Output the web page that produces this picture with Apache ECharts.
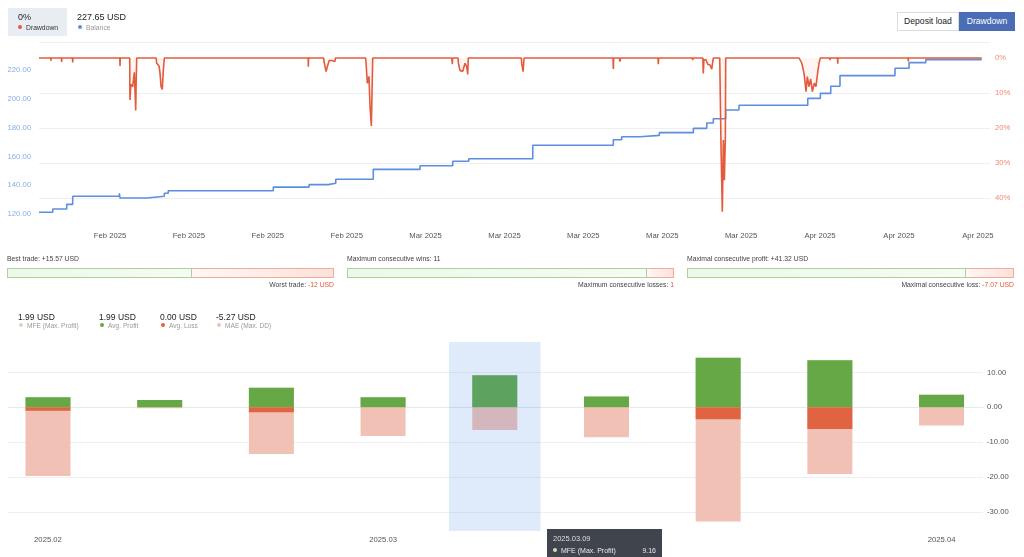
<!DOCTYPE html>
<html>
<head>
<meta charset="utf-8">
<script src="https://cdn.jsdelivr.net/npm/echarts/dist/echarts.min.js"></script>
<style>
html,body{margin:0;padding:0;background:#fff;}
body{width:1024px;height:557px;overflow:hidden;position:relative;font-family:'Liberation Sans',Arial,sans-serif;}
#chart{position:absolute;left:0;top:0;width:1024px;height:557px;}
.ov{position:absolute;white-space:nowrap;z-index:5;line-height:1;}
.dot{display:inline-block;width:4px;height:4px;border-radius:50%;margin-right:4px;vertical-align:1px;}
.btn{box-sizing:border-box;height:19px;font-size:8.6px;display:flex;align-items:center;justify-content:center;}
.pb{position:absolute;box-sizing:border-box;height:10px;z-index:5;}
</style>
</head>
<body>
<div id="chart"></div>
<div id="overlay"></div>
<script>
// ---------------- DATA ----------------
// top chart: x = days since 2025-01-26 (Sunday)
const baseDateUTC = Date.UTC(2025, 0, 26);
const monthNames = ['Jan','Feb','Mar','Apr','May','Jun','Jul','Aug','Sep','Oct','Nov','Dec'];
const weekTickDays = [7,14,21,28,35,42,49,56,63,70,77,84];
const balanceTickValues = [120,140,160,180,200,220];
const drawdownTickValues = [0,10,20,30,40];

const balancePts = [
  [0.70,121.2],[1.92,123.5],[3.16,126.7],[3.69,132.3],[7.83,134.4],[7.89,131.1],
  [10.31,132.3],[11.82,134.4],[12.17,136.2],[21.49,138.7],[24.66,140.4],[26.37,141.3],
  [27.03,144.1],[30.36,151.0],[34.51,153.5],[37.41,156.6],[38.83,158.4],[44.51,167.7],
  [51.66,171.6],[52.40,173.7],[54.03,174.6],[55.74,176.5],[58.76,179.5],[59.95,183.2],
  [60.53,186.2],[61.63,192.2],[62.81,195.5],[68.91,200.3],[70.03,203.8],[70.95,208.7],
  [71.77,216.1],[76.65,221.2],[77.90,225.1],[79.38,227.2],[84.35,227.65]
];

const drawdownPts = [
  [0.70,0],
  [1.74,0],[1.76,0.8],[1.78,0],
  [2.69,0],[2.71,1.1],[2.73,0],
  [3.67,0],[3.69,1.3],[3.71,0],
  [7.87,0],[7.89,2.3],[7.91,0],
  [8.75,0],[8.77,12.0],[8.85,7.5],[8.93,7.2],[9.01,8.2],[9.16,4.1],[9.28,15.0],[9.31,9.0],[9.37,0],
  [11.10,0],[11.14,1.5],[11.35,2.3],[11.44,4.4],[11.53,8.2],[11.64,9.0],[11.73,3.6],[11.82,0],
  [12.15,0],[12.17,0.5],[12.19,0],
  [24.58,0],[24.60,2.5],[24.62,0],
  [25.95,0],[25.99,1.0],[26.17,3.9],[26.28,2.5],[26.45,0.7],[26.67,0.7],[26.96,1.0],[27.00,0],
  [29.68,0],[29.72,1.5],[29.83,7.2],[29.98,5.3],[30.07,13.9],[30.19,19.4],[30.31,0],
  [37.33,0],[37.37,1.8],[37.40,0],[37.88,0],[37.91,1.5],[38.06,3.6],[38.30,3.8],[38.50,1.5],[38.65,2.5],[38.74,4.7],[38.79,0],
  [43.50,0],[43.53,1.6],[43.65,3.9],[43.74,0],
  [51.63,0],[51.66,3.1],[51.69,0],
  [52.20,0],[52.25,1.0],[52.30,0],
  [55.62,0],[55.65,1.8],[55.68,0],
  [58.68,0],[58.70,0.6],[58.72,0],
  [59.60,0],[59.64,4.4],[59.70,0.5],[59.88,0.5],[60.03,1.8],[60.24,2.0],[60.39,3.2],[60.53,0],
  [61.10,0],[61.22,26.3],[61.33,43.9],[61.42,23.4],[61.51,34.9],[61.60,22.5],[61.63,0],
  [68.14,0],[68.38,1.5],[68.58,4.4],[68.76,9.6],[68.87,5.3],[69.02,8.2],[69.17,6.0],[69.32,9.6],[69.49,7.2],[69.64,8.2],[69.80,3.9],[69.91,1.5],[70.03,0],
  [70.87,0],[70.89,0.6],[70.91,0],
  [71.55,0],[71.57,1.6],[71.59,0],
  [77.81,0],[77.83,1.0],[77.85,0],
  [84.35,0]
];

// bottom chart (weekly)
const weeks = ['2025.02.09','2025.02.16','2025.02.23','2025.03.02','2025.03.09','2025.03.16','2025.03.23','2025.03.30','2025.04.06'];
const mfeValues    = [2.9, 2.1, 5.6, 2.9, 9.16, 3.1, 14.2, 13.5, 3.6];
const profitValues = [2.9, 2.1, 5.6, 2.9, 9.16, 3.1, 14.2, 13.5, 3.6];
const lossValues   = [-1.0, 0, -1.4, 0, 0, 0, -3.4, -6.2, 0];
const maeValues    = [-19.7, -0.3, -13.4, -8.2, -6.5, -8.6, -32.7, -19.1, -5.2];
const barTickValues = [-30,-20,-10,0,10];
const highlightedWeek = 4;

// summary values
const headerDrawdown = '0%';
const headerBalance = '227.65 USD';
const legendNames  = ['MFE (Max. Profit)','Avg. Profit','Avg. Loss','MAE (Max. DD)'];
const legendValues = [1.99, 1.99, 0.00, -5.27];
const bestTrade = 15.57, worstTrade = -12;
const maxConsWins = 11, maxConsLosses = 1;
const maxConsProfit = 41.32, maxConsLoss = -7.07;

// ---------------- STYLE ----------------
const C = {
  red:'#e35a3c', blue:'#5d8fe0', mfe:'#c8e2b8', profit:'#66a846', loss:'#e06342', mae:'#f1c1b5',
  grid:'#efefef', axisTxt:'#555'
};
const FONT = "'Liberation Sans', Arial, sans-serif";

// ---------------- OVERLAY HTML ----------------
const ov = document.getElementById('overlay');
let html = '';
html += '<div class="ov" style="left:8px;top:8px;width:59px;height:28px;background:#e8edf4;"></div>';
html += '<div class="ov" style="left:18px;top:13px;font-size:9px;color:#222;">'+headerDrawdown+'</div>';
html += '<div class="ov" style="left:18px;top:25px;font-size:6.8px;color:#333;"><span class="dot" style="background:'+C.red+'"></span>Drawdown</div>';
html += '<div class="ov" style="left:77px;top:13px;font-size:9px;color:#222;">'+headerBalance+'</div>';
html += '<div class="ov" style="left:78px;top:25px;font-size:6.8px;color:#999;"><span class="dot" style="background:'+C.blue+'"></span>Balance</div>';
html += '<div class="ov btn" style="left:897px;top:12px;width:62px;border:1px solid #dcdcdc;color:#222;background:#fff;">Deposit load</div>';
html += '<div class="ov btn" style="left:959px;top:12px;width:56px;background:#4a6db5;color:#fff;">Drawdown</div>';

function progress(left, goodFrac, topText, botLabel, botValue) {
  const W = 327, top = 268;
  const gw = Math.round(W * goodFrac);
  let s = '';
  s += '<div class="ov" style="left:'+left+'px;top:256px;font-size:6.8px;color:#444;">'+topText+'</div>';
  s += '<div class="pb" style="left:'+left+'px;top:'+top+'px;width:'+gw+'px;border:1px solid #a9d39b;background:linear-gradient(to right,#eef7e9,#f6fbf3);"></div>';
  s += '<div class="pb" style="left:'+(left+gw)+'px;top:'+top+'px;width:'+(W-gw)+'px;border:1px solid #f2ab9b;border-left:none;background:linear-gradient(to right,#fff8f6,#fbe1d9);"></div>';
  s += '<div class="ov" style="left:'+left+'px;width:'+W+'px;top:282px;font-size:6.8px;color:#444;text-align:right;">'+botLabel+'<span style="color:'+C.red+'">'+botValue+'</span></div>';
  return s;
}
html += progress(7, bestTrade/(bestTrade+Math.abs(worstTrade)), 'Best trade: +'+bestTrade.toFixed(2)+' USD', 'Worst trade: ', worstTrade+' USD');
html += progress(347, maxConsWins/(maxConsWins+maxConsLosses), 'Maximum consecutive wins: '+maxConsWins, 'Maximum consecutive losses: ', String(maxConsLosses));
html += progress(687, maxConsProfit/(maxConsProfit+Math.abs(maxConsLoss)), 'Maximal consecutive profit: +'+maxConsProfit.toFixed(2)+' USD', 'Maximal consecutive loss: ', maxConsLoss.toFixed(2)+' USD');

const legendX = [18, 99, 160, 216];
const legendColors = [C.mfe, C.profit, C.loss, C.mae];
legendNames.forEach((n,i)=>{
  html += '<div class="ov" style="left:'+legendX[i]+'px;top:313px;font-size:8.5px;color:#222;">'+legendValues[i].toFixed(2)+' USD</div>';
  html += '<div class="ov" style="left:'+(legendX[i]+1)+'px;top:323px;font-size:6.6px;color:#999;"><span class="dot" style="background:'+legendColors[i]+'"></span>'+n+'</div>';
});
ov.innerHTML = html;

// ---------------- CHART ----------------
function dayLabel(d){
  const dt = new Date(baseDateUTC + d*86400000);
  return monthNames[dt.getUTCMonth()] + ' ' + dt.getUTCFullYear();
}
const monthStarts = weeks.map((w,i)=> (i===0 || w.slice(0,7)!==weeks[i-1].slice(0,7)) ? i : -1).filter(i=>i>=0);
const ddMinAxis = -4.43, ddMaxAxis = 47.43;

const chart = echarts.init(document.getElementById('chart'), null, {renderer:'canvas'});
const barSeriesDefs = [
  {name:legendNames[0], vals:mfeValues, color:C.mfe},
  {name:legendNames[3], vals:maeValues, color:C.mae},
  {name:legendNames[1], vals:profitValues, color:C.profit},
  {name:legendNames[2], vals:lossValues, color:C.loss}
];
const tipOrder = [
  {name:legendNames[0], vals:mfeValues, color:C.mfe},
  {name:legendNames[1], vals:profitValues, color:C.profit},
  {name:legendNames[2], vals:lossValues, color:C.loss},
  {name:legendNames[3], vals:maeValues, color:C.mae}
];

const option = {
  animation:false,
  textStyle:{fontFamily:FONT},
  grid:[
    {left:39, right:34, top:42.5, bottom:333},
    {left:8, right:41, top:342, bottom:26}
  ],
  tooltip:{
    trigger:'item', triggerOn:'none', alwaysShowContent:true, transitionDuration:0,
    position:[547,529],
    backgroundColor:'rgba(58,63,71,0.97)', borderWidth:0, padding:[4,6],
    textStyle:{color:'#e8e8e8', fontSize:7, fontFamily:FONT},
    extraCssText:'border-radius:0;box-shadow:none;width:103px;line-height:12px;',
    formatter:function(p){
      const i = p.dataIndex;
      let h = '<div style="font-size:7.5px;color:#ddd;">'+weeks[i]+'</div>';
      tipOrder.forEach(s=>{
        h += '<div style="display:flex;justify-content:space-between;font-size:7px;"><span><span style="display:inline-block;width:4px;height:4px;border-radius:50%;background:'+s.color+';margin-right:4px;vertical-align:1px;"></span>'+s.name+'</span><span>'+s.vals[i].toFixed(2)+'</span></div>';
      });
      return h;
    }
  },
  xAxis:[
    {type:'value', gridIndex:0, min:balancePts[0][0], max:85.08,
     axisLine:{show:false}, axisTick:{show:false, customValues:weekTickDays}, splitLine:{show:false},
     axisLabel:{customValues:weekTickDays, formatter:dayLabel, color:C.axisTxt, fontSize:7.7, margin:8}},
    {type:'value', gridIndex:1, min:-0.358, max:8.371,
     axisLine:{show:true, lineStyle:{color:'#e8e8e8'}}, axisTick:{show:false, customValues:monthStarts}, splitLine:{show:false},
     axisLabel:{customValues:monthStarts, formatter:(v)=>weeks[Math.round(v)].slice(0,7), color:C.axisTxt, fontSize:7.7, margin:5}}
  ],
  yAxis:[
    {type:'value', gridIndex:0, position:'left', min:113.06, max:239.1,
     axisLine:{show:false}, axisTick:{show:false, customValues:balanceTickValues}, splitLine:{show:false},
     axisLabel:{customValues:balanceTickValues, formatter:(v)=>v.toFixed(2), color:'#86aee6', fontSize:7.7, margin:8}},
    {type:'value', gridIndex:0, position:'right', inverse:true, min:ddMinAxis, max:ddMaxAxis,
     axisLine:{show:false}, axisTick:{show:false, customValues:[ddMinAxis,10,20,30,40]},
     splitLine:{show:true, lineStyle:{color:C.grid, width:1}},
     axisLabel:{customValues:drawdownTickValues, formatter:(v)=>v+'%', color:'#f08a70', fontSize:7.7, margin:5}},
    {type:'value', gridIndex:1, position:'right', min:-35.44, max:18.71,
     axisLine:{show:false}, axisTick:{show:false, customValues:barTickValues},
     splitLine:{show:true, lineStyle:{color:C.grid, width:1}},
     axisLabel:{customValues:barTickValues, formatter:(v)=>v.toFixed(2), color:C.axisTxt, fontSize:7.7, margin:4}}
  ],
  series:[
    {name:'Balance', type:'line', xAxisIndex:0, yAxisIndex:0, step:'end', data:balancePts,
     symbol:'none', lineStyle:{color:C.blue, width:1.6}, z:2},
    {name:'Drawdown', type:'line', xAxisIndex:0, yAxisIndex:1, data:drawdownPts,
     symbol:'none', lineStyle:{color:C.red, width:1.6}, areaStyle:{color:'rgba(235,95,65,0.09)'}, z:3}
  ].concat(barSeriesDefs.map((s,k)=>{
    const o = {name:s.name, type:'bar', xAxisIndex:1, yAxisIndex:2, barWidth:45, barGap:'-100%',
      data:s.vals.map((v,i)=>[i,v]), itemStyle:{color:s.color}, z:2};
    if (k === barSeriesDefs.length-1) {
      o.markArea = {silent:true, z:5, itemStyle:{color:'rgba(59,130,230,0.16)'},
        data:[[{xAxis:highlightedWeek-0.41},{xAxis:highlightedWeek+0.41}]]};
    }
    return o;
  }))
};
chart.setOption(option);
chart.dispatchAction({type:'showTip', seriesIndex:2, dataIndex:highlightedWeek});
</script>
</body>
</html>
